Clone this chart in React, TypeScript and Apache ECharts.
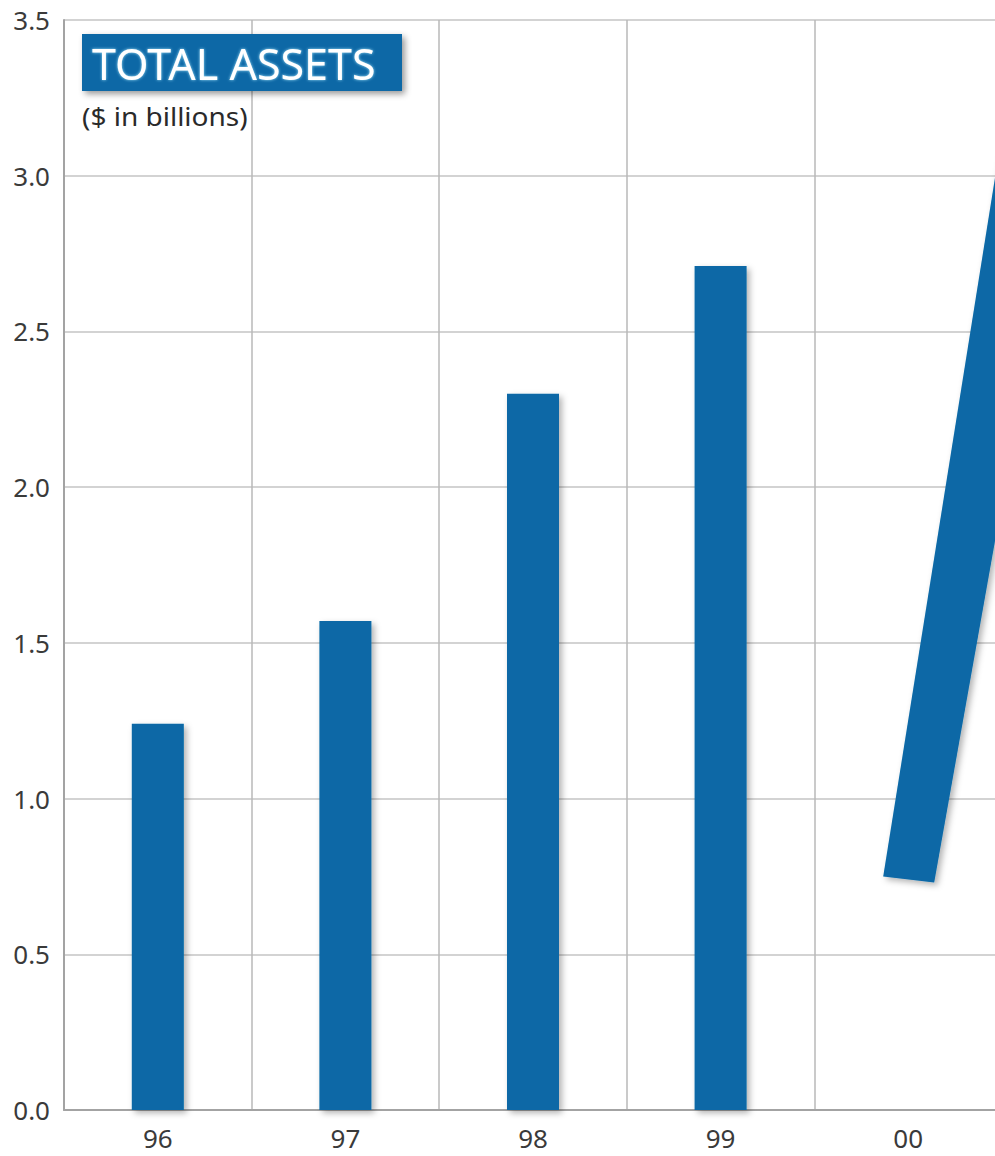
import React, { useEffect, useRef } from "react";
import * as echarts from "echarts";

// Fiscal years shown along the bottom axis
const categories = ["96", "97", "98", "99", "00"];
// Total assets per year, $ in billions
const totalAssets = [1.24, 1.57, 2.3, 2.71];
// The 2000 column is drawn as a leaning band that starts here and climbs past the top
const surgeBase = 0.74;
const surgeTop = 3.6;
// Value axis ticks
const yTicks = [0, 0.5, 1.0, 1.5, 2.0, 2.5, 3.0, 3.5];

const BLUE = "#0868a6";
const FONT = "'Noto Sans', 'Open Sans', sans-serif";

export default function App() {
  const ref = useRef<HTMLDivElement>(null);

  useEffect(() => {
    if (!ref.current) return;
    const chart = echarts.init(ref.current, undefined, { renderer: "svg" });

    const option: echarts.EChartsCoreOption = {
      animation: false,
      backgroundColor: "#ffffff",
      grid: { left: 64, top: 20, width: 938, height: 1090, containLabel: false },
      xAxis: {
        type: "category",
        data: categories,
        boundaryGap: true,
        axisLine: { show: true, lineStyle: { color: "#a3a3a3", width: 2 } },
        axisTick: { show: false },
        axisLabel: {
          color: "#3a3a3a",
          fontSize: 26,
          lineHeight: 22,
          fontFamily: FONT,
          margin: 17,
        },
        splitLine: { show: true, interval: 0, lineStyle: { color: "#b8b8b8", width: 1.5 } },
      },
      yAxis: {
        type: "value",
        min: yTicks[0],
        max: yTicks[yTicks.length - 1],
        interval: 0.5,
        axisLine: { show: true, lineStyle: { color: "#a3a3a3", width: 2 } },
        axisTick: { show: false },
        axisLabel: {
          color: "#3a3a3a",
          fontSize: 26,
          fontFamily: FONT,
          margin: 14,
          formatter: (v: number) => v.toFixed(1),
        },
        splitLine: { show: true, lineStyle: { color: "#c4c4c4", width: 1.5 } },
      },
      series: [
        {
          type: "bar",
          data: totalAssets,
          barWidth: 52,
          itemStyle: {
            color: BLUE,
            shadowColor: "rgba(0,0,0,0.3)",
            shadowBlur: 6,
            shadowOffsetX: 3,
            shadowOffsetY: 3,
          },
          z: 3,
        },
        {
          type: "custom",
          clip: false,
          data: [[4, surgeBase, surgeTop]],
          renderItem: (_params: any, api: any) => {
            const base = api.coord([api.value(0), api.value(1)]);
            const top = api.coord([api.value(0), api.value(2)]);
            const cx = base[0];
            const by = base[1];
            const ty = top[1];
            const lb = [cx - 25, by - 3];
            const rb = [cx + 26, by + 3];
            const lt = [lb[0] + 0.16 * (lb[1] - ty), ty];
            const rt = [rb[0] + 0.178 * (rb[1] - ty), ty];
            return {
              type: "polygon",
              shape: { points: [lb, rb, rt, lt] },
              style: {
                fill: BLUE,
                shadowColor: "rgba(0,0,0,0.3)",
                shadowBlur: 6,
                shadowOffsetX: 3,
                shadowOffsetY: 3,
              },
            };
          },
          z: 3,
        },
      ],
      graphic: [
        {
          type: "rect",
          left: 82,
          top: 34,
          shape: { width: 320, height: 57 },
          style: {
            fill: BLUE,
            shadowColor: "rgba(0,0,0,0.4)",
            shadowBlur: 6,
            shadowOffsetX: 3,
            shadowOffsetY: 3,
          },
          z: 10,
        },
        {
          type: "text",
          x: 92,
          y: 63,
          style: {
            text: "TOTAL ASSETS",
            fill: "#ffffff",
            font: `400 43px ${FONT}`,
            verticalAlign: "middle",
            textShadowColor: "rgba(170,235,255,0.9)",
            textShadowBlur: 3,
          },
          z: 11,
        },
        {
          type: "text",
          x: 82,
          y: 117,
          scaleX: 1.12,
          originX: 0,
          originY: 0,
          style: {
            text: "($ in billions)",
            fill: "#2a2a2a",
            font: `400 25px ${FONT}`,
            verticalAlign: "middle",
          },
          z: 11,
        },
      ],
    };

    chart.setOption(option);
    return () => chart.dispose();
  }, []);

  return (
    <div
      style={{
        position: "absolute",
        left: 0,
        top: 0,
        width: 995,
        height: 1156,
        overflow: "hidden",
        background: "#ffffff",
      }}
    >
      <div ref={ref} style={{ width: 1030, height: 1156 }} />
    </div>
  );
}
